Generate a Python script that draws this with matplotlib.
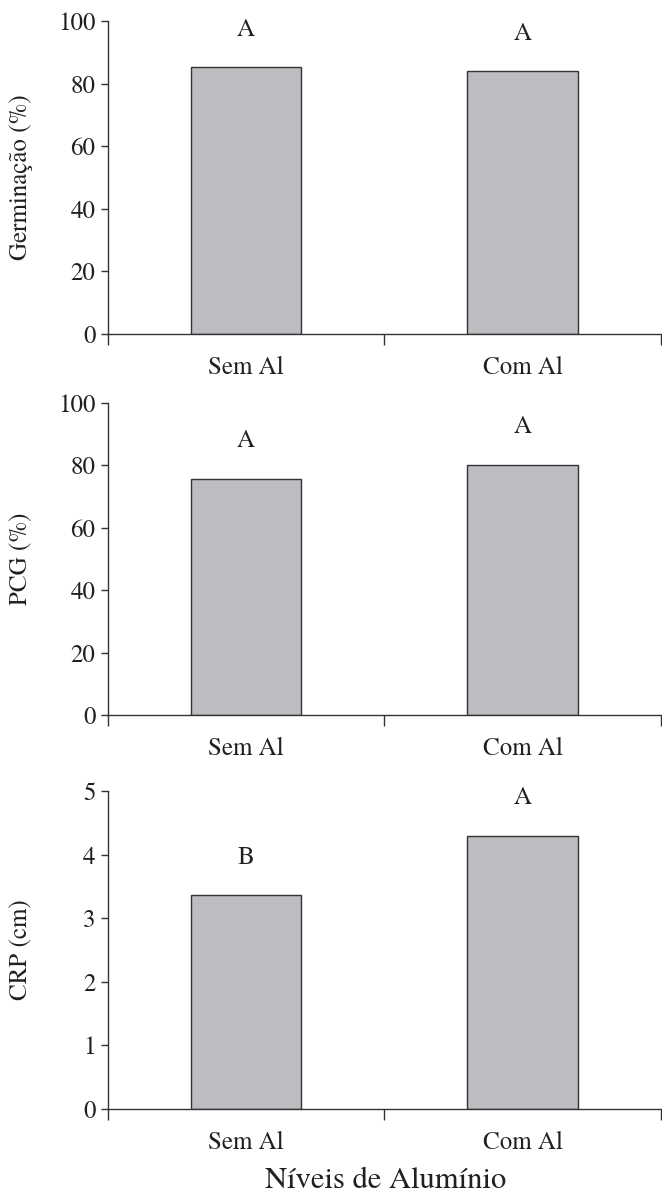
import numpy as np
import matplotlib.pyplot as plt

plt.rcParams['font.family'] = ['TeX Gyre Termes', 'Liberation Serif', 'DejaVu Serif']

categories = ["Sem Al", "Com Al"]
germinacao = [85.3, 84.0]
pcg = [75.7, 80.2]
crp = [3.36, 4.30]
letras_germ = ["A", "A"]
letras_pcg = ["A", "A"]
letras_crp = ["B", "A"]

panels = [
    (germinacao, letras_germ, "Germinação (%)", 100, np.arange(0, 101, 20)),
    (pcg, letras_pcg, "PCG (%)", 100, np.arange(0, 101, 20)),
    (crp, letras_crp, "CRP (cm)", 5, np.arange(0, 6, 1)),
]

# axes rectangles in figure fractions (left, bottom, width, height)
rects = [
    (0.163, 0.7217, 0.835, 0.2608),
    (0.163, 0.4042, 0.835, 0.2600),
    (0.163, 0.0758, 0.835, 0.2650),
]

txt = '#231f20'
fs = 18
fig = plt.figure(figsize=(6.62, 12), dpi=100)

for (vals, letras, ylab, ymax, yticks), rect in zip(panels, rects):
    ax = fig.add_axes(rect)
    x = np.arange(len(categories))
    bars = ax.bar(x, vals, width=0.4, color='#bcbdc1', edgecolor='#333333', linewidth=1.0, zorder=2)
    for b, l in zip(bars, letras):
        ax.annotate(l, (b.get_x() + b.get_width() / 2, b.get_height()),
                    xytext=(0, 27), textcoords='offset points',
                    ha='center', va='center', fontsize=fs, color=txt)
    ax.set_xlim(-0.5, 1.5)
    ax.set_ylim(0, ymax)
    ax.set_yticks(yticks)
    ax.set_xticks([-0.5, 0.5, 1.5])
    ax.set_xticklabels([])
    ax.set_xticks(x, minor=True)
    ax.set_xticklabels(categories, minor=True)
    ax.tick_params(axis='x', which='major', direction='out', length=8, width=1, color='#333333')
    ax.tick_params(axis='x', which='minor', length=0, pad=16, labelsize=fs, labelcolor=txt)
    ax.tick_params(axis='y', direction='out', length=5, width=1, color='#333333',
                   labelsize=fs, labelcolor=txt, pad=4)
    for s in ['top', 'right']:
        ax.spines[s].set_visible(False)
    for s in ['left', 'bottom']:
        ax.spines[s].set_color('#333333')
        ax.spines[s].set_linewidth(1)
    ax.set_ylabel(ylab, fontsize=fs, color=txt)
    ax.yaxis.set_label_coords(-0.135, 0.5)

fig.text(0.582, 0.016, "Níveis de Alumínio", ha='center', va='center', fontsize=22, color=txt)

plt.savefig("out.png", dpi=100)
